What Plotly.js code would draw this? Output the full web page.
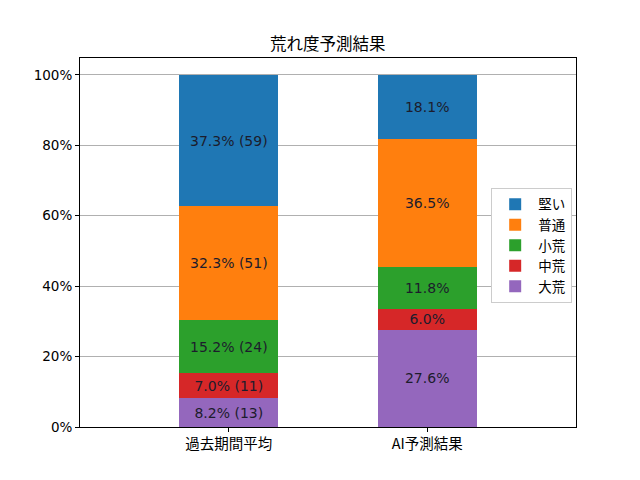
<!DOCTYPE html>
<html>
<head>
<meta charset="utf-8">
<script src="https://cdn.plot.ly/plotly-3.0.1.min.js"></script>
<style>html,body{margin:0;padding:0;background:#fff;}#chart{width:640px;height:480px;}</style>
</head>
<body>
<div id="chart"></div>
<script>
const categories = ['過去期間平均', 'AI予測結果'];
const seriesNames = ['大荒', '中荒', '小荒', '普通', '堅い'];
const colors = ['#9467bd', '#d62728', '#2ca02c', '#ff7f0e', '#1f77b4'];
const daiare = [8.2, 27.6];
const chuare = [7.0, 6.0];
const shoare = [15.2, 11.8];
const futsu = [32.3, 36.5];
const katai = [37.3, 18.1];
const daiareCount = ['(13)', ''];
const chuareCount = ['(11)', ''];
const shoareCount = ['(24)', ''];
const futsuCount = ['(51)', ''];
const kataiCount = ['(59)', ''];

const values = [daiare, chuare, shoare, futsu, katai];
const counts = [daiareCount, chuareCount, shoareCount, futsuCount, kataiCount];

const font = '"DejaVu Sans", "Noto Sans CJK JP", sans-serif';
const jfont = '"Noto Sans CJK JP", "DejaVu Sans", sans-serif';

const traces = seriesNames.map((name, i) => ({
  type: 'bar',
  name: name,
  x: categories,
  y: values[i],
  width: 0.5,
  marker: {color: colors[i], line: {width: 0}},
  texttemplate: values[i].map((v, j) => counts[i][j] ? v.toFixed(1) + '% ' + counts[i][j] : v.toFixed(1) + '%'),
  textposition: 'inside',
  insidetextanchor: 'middle',
  textangle: 0,
  constraintext: 'none',
  textfont: {family: font, size: 14, color: '#1c1c2c'},
  hoverinfo: 'skip'
}));

const layout = {
  width: 640, height: 480,
  margin: {l: 80, r: 64, t: 58, b: 53},
  paper_bgcolor: '#fff', plot_bgcolor: '#fff',
  barmode: 'stack',
  title: {text: '荒れ度予測結果', font: {family: jfont, size: 16.5, color: '#000'}, x: 0.512, xanchor: 'center', y: 1 - 44/480, yanchor: 'middle', yref: 'container'},
  xaxis: {
    type: 'category', range: [-0.75, 1.75],
    showline: true, linecolor: '#000', linewidth: 1, mirror: true,
    ticks: 'outside', ticklen: 4, tickcolor: '#000',
    tickfont: {family: jfont, size: 14.5, color: '#000'},
    showgrid: false, zeroline: false
  },
  yaxis: {
    range: [0, 104.8],
    tickvals: [0, 20, 40, 60, 80, 100],
    ticktext: ['0%', '20%', '40%', '60%', '80%', '100%'],
    showline: true, linecolor: '#000', linewidth: 1, mirror: true,
    ticks: 'outside', ticklen: 4, tickcolor: '#000',
    tickfont: {family: font, size: 13.5, color: '#000'},
    showgrid: true, gridcolor: '#b0b0b0', gridwidth: 1,
    zeroline: false
  },
  legend: {
    x: 0.829, y: 0.648, xanchor: 'left', yanchor: 'top',
    traceorder: 'reversed',
    bgcolor: '#fff', bordercolor: '#cccccc', borderwidth: 1,
    font: {family: jfont, size: 13.5, color: '#000'},
    itemwidth: 36,
    tracegroupgap: 0
  },
  showlegend: true
};

Plotly.newPlot('chart', traces, layout, {displayModeBar: false, staticPlot: true});
</script>
</body>
</html>
